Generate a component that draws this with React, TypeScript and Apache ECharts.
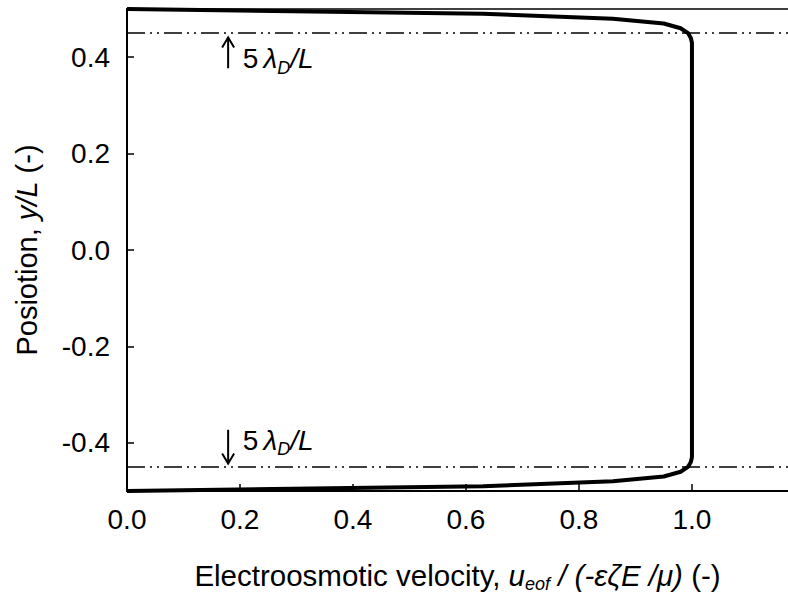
import React, { useEffect, useRef } from "react";
import * as echarts from "echarts";

const FONT = '"Liberation Sans", Arial, Helvetica, sans-serif';

// Velocity profile (position y/L vs u/(−εζE/μ))
const positionY = [0.5, 0.49, 0.48, 0.47, 0.46, 0.45, 0.44, 0.43, -0.43, -0.44, -0.45, -0.46, -0.47, -0.48, -0.49, -0.5];
const velocityU = [0, 0.63, 0.86, 0.95, 0.98, 0.993, 0.998, 1.0, 1.0, 0.998, 0.993, 0.98, 0.95, 0.86, 0.63, 0];

// 5 λD / L reference lines
const debyeLines = [0.45, -0.45];

const xTickValues = [0, 0.2, 0.4, 0.6, 0.8, 1.0];
const yTickValues = [-0.4, -0.2, 0, 0.2, 0.4];

const X_MIN = 0;
const X_MAX = 1.17;
const Y_MIN = -0.5;
const Y_MAX = 0.5;

// annotation anchors in data coordinates
const arrowX = [0.179, 0.179];
const arrowTail = [0.377, -0.373];
const arrowTip = [0.441, -0.443];
const labelX = [0.205, 0.205];
const labelY = [0.397, -0.395];

const FS = 28;
const NAME_FS = 29.5;
const SUB = 18;

export default function App() {
  const ref = useRef<HTMLDivElement | null>(null);

  useEffect(() => {
    if (!ref.current) return;
    const chart = echarts.init(ref.current, undefined, { renderer: "svg" });
    const data = positionY.map((y, i) => [velocityU[i], y]);

    chart.setOption({
      animation: false,
      backgroundColor: "#ffffff",
      textStyle: { fontFamily: FONT },
      grid: { left: 127, right: 0, top: 9, bottom: 111, containLabel: false, outerBoundsMode: "none" },
      xAxis: [
        {
          type: "value",
          min: X_MIN,
          max: X_MAX,
          position: "bottom",
          splitLine: { show: false },
          axisLine: { show: true, onZero: false, lineStyle: { color: "#000", width: 2 } },
          axisTick: {
            show: true,
            inside: true,
            length: 7,
            lineStyle: { color: "#000", width: 1.5 },
            customValues: xTickValues,
          },
          axisLabel: {
            color: "#000",
            fontSize: FS,
            fontFamily: FONT,
            margin: 14,
            customValues: xTickValues,
            formatter: (v: number) => v.toFixed(1),
          },
          name: "{n|Electroosmotic velocity, }{i|u}{s|eof}{i| / (-εζE /μ)}{n| (-)}",
          nameLocation: "middle",
          nameGap: 69,
          nameTextStyle: {
            color: "#000",
            fontSize: NAME_FS,
            fontFamily: FONT,
            verticalAlign: "top",
            rich: {
              n: { fontSize: NAME_FS, fontFamily: FONT, color: "#000", verticalAlign: "top" },
              i: { fontSize: NAME_FS, fontFamily: FONT, fontStyle: "italic", color: "#000", verticalAlign: "top" },
              s: { fontSize: SUB, fontFamily: FONT, fontStyle: "italic", color: "#000", verticalAlign: "top", padding: [15, 0, 0, 0] },
            },
          },
        },
        {
          type: "value",
          min: X_MIN,
          max: X_MAX,
          position: "top",
          splitLine: { show: false },
          axisLine: { show: true, onZero: false, lineStyle: { color: "#000", width: 1.5 } },
          axisTick: { show: false },
          axisLabel: { show: false },
        },
      ],
      yAxis: {
        type: "value",
        min: Y_MIN,
        max: Y_MAX,
        splitLine: { show: false },
        axisLine: { show: true, onZero: false, lineStyle: { color: "#000", width: 2 } },
        axisTick: {
          show: true,
          inside: true,
          length: 7,
          lineStyle: { color: "#000", width: 1.5 },
          customValues: yTickValues,
        },
        axisLabel: {
          color: "#000",
          fontSize: FS,
          fontFamily: FONT,
          margin: 17,
          customValues: yTickValues,
          formatter: (v: number) => v.toFixed(1),
        },
        name: "{n|Posiotion, }{i|y/L}{n| (-)}",
        nameLocation: "middle",
        nameGap: 86,
        nameTextStyle: {
          color: "#000",
          fontSize: 29,
          fontFamily: FONT,
          rich: {
            n: { fontSize: 29, fontFamily: FONT, color: "#000" },
            i: { fontSize: 29, fontFamily: FONT, fontStyle: "italic", color: "#000" },
          },
        },
      },
      series: [
        {
          type: "line",
          xAxisIndex: 0,
          data,
          showSymbol: false,
          symbol: "none",
          clip: false,
          lineStyle: { color: "#000", width: 4, join: "round" },
          markLine: {
            silent: true,
            symbol: "none",
            label: { show: false },
            lineStyle: { color: "#000", width: 1.5, type: [18, 5, 2, 5, 2, 5] },
            data: debyeLines.map((v) => ({ yAxis: v })),
          },
          z: 3,
        },
      ],
    });

    const graphics: any[] = [];
    for (let k = 0; k < arrowX.length; k++) {
      const tail = chart.convertToPixel({ gridIndex: 0 }, [arrowX[k], arrowTail[k]]);
      const tip = chart.convertToPixel({ gridIndex: 0 }, [arrowX[k], arrowTip[k]]);
      const dir = tip[1] < tail[1] ? 1 : -1; // 1 = pointing up
      graphics.push({
        type: "line",
        shape: { x1: tail[0], y1: tail[1], x2: tip[0], y2: tip[1] },
        style: { stroke: "#000", lineWidth: 2 },
      });
      graphics.push({
        type: "polyline",
        shape: {
          points: [
            [tip[0] - 6, tip[1] + dir * 10],
            [tip[0], tip[1]],
            [tip[0] + 6, tip[1] + dir * 10],
          ],
        },
        style: { stroke: "#000", lineWidth: 2, fill: "none" },
      });
      const lp = chart.convertToPixel({ gridIndex: 0 }, [labelX[k], labelY[k]]);
      graphics.push({
        type: "text",
        x: lp[0],
        y: lp[1] - 14,
        style: {
          text: "{n|5}{g|λ}{s|D}{i|/L}",
          verticalAlign: "top",
          align: "left",
          rich: {
            n: { fontSize: FS, fontFamily: FONT, fill: "#000", verticalAlign: "top", padding: [0, 5, 0, 0] },
            g: { fontSize: FS, fontFamily: FONT, fontStyle: "italic", fill: "#000", verticalAlign: "top" },
            s: { fontSize: SUB, fontFamily: FONT, fontStyle: "italic", fill: "#000", verticalAlign: "top", padding: [14, 0, 0, 0] },
            i: { fontSize: FS, fontFamily: FONT, fontStyle: "italic", fill: "#000", verticalAlign: "top" },
          },
        },
        z: 10,
      });
    }
    chart.setOption({ graphic: graphics });

    return () => chart.dispose();
  }, []);

  return <div ref={ref} style={{ width: 788, height: 602, position: "absolute", left: 0, top: 0 }} />;
}
